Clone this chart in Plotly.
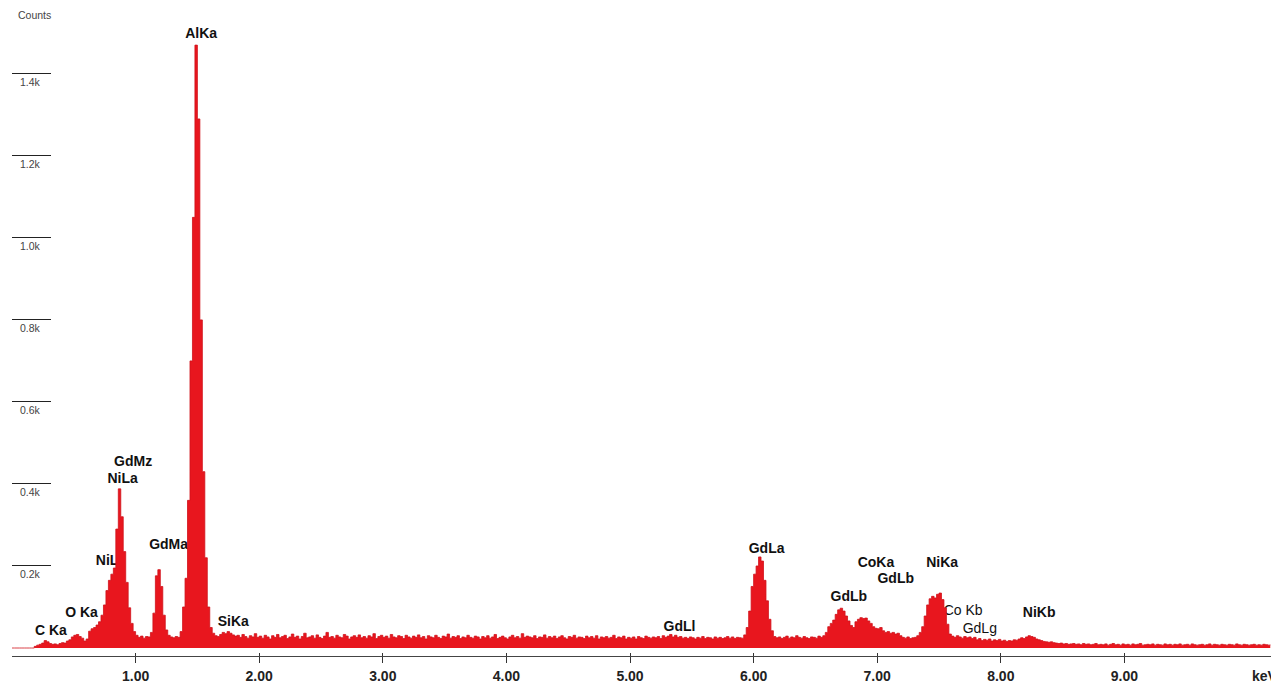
import plotly.graph_objects as go

# ---------------- data ----------------
channel_start_keV = 0.0
channel_width_keV = 0.02

# counts per 0.02 keV channel, 0.00 ... 10.18 keV (one row = 0.2 keV)
counts = [
    0, 0, 0, 0, 0, 0, 0, 0, 0, 4,                      # 0.00
    7, 9, 12, 18, 15, 11, 9, 10, 8, 11,                # 0.20
    13, 12, 17, 20, 27, 31, 33, 28, 24, 17,            # 0.40
    22, 41, 47, 50, 56, 64, 80, 105, 140, 165,         # 0.60
    180, 195, 290, 388, 320, 235, 160, 98, 60, 40,     # 0.80
    31, 26, 29, 24, 28, 27, 38, 85, 176, 191,          # 1.00
    150, 80, 44, 31, 27, 25, 28, 26, 40, 100,          # 1.20
    170, 360, 700, 1050, 1470, 1290, 800, 430, 220, 100,  # 1.40
    50, 36, 30, 28, 33, 38, 35, 40, 36, 32,            # 1.60
    29, 31, 26, 33, 28, 24, 30, 27, 35, 26,            # 1.80
    29, 24, 31, 27, 22, 30, 26, 33, 25, 28,            # 2.00
    31, 23, 27, 34, 26, 29, 22, 28, 36, 25,            # 2.20
    27, 30, 24, 32, 26, 23, 29, 38, 26, 28,            # 2.40
    24, 31, 27, 25, 33, 29, 22, 27, 30, 26,            # 2.60
    32, 25, 28, 24, 30, 27, 35, 23, 28, 31,            # 2.80
    26, 29, 24, 33, 27, 25, 30, 28, 23, 31,            # 3.00
    27, 24, 29, 26, 32, 25, 28, 22, 30, 27,            # 3.20
    25, 31, 26, 23, 29, 27, 34, 24, 28, 26,            # 3.40
    30, 23, 27, 25, 31, 26, 24, 29, 27, 22,            # 3.60
    28, 25, 30, 24, 27, 33, 23, 26, 29, 25,            # 3.80
    22, 27, 31, 25, 28, 24, 35, 26, 29, 27,            # 4.00
    25, 30, 23, 27, 26, 32, 24, 28, 25, 29,            # 4.20
    23, 27, 30, 25, 22, 28, 26, 31, 24, 27,            # 4.40
    26, 23, 29, 25, 28, 24, 30, 22, 27, 25,            # 4.60
    28, 24, 26, 31, 23, 27, 25, 29, 22, 26,            # 4.80
    24, 27, 22, 28, 25, 23, 29, 26, 24, 27,            # 5.00
    25, 28, 23, 30, 26, 29, 33, 27, 31, 26,            # 5.20
    28, 24, 26, 23, 27, 25, 22, 26, 24, 28,            # 5.40
    23, 26, 25, 22, 27, 24, 26, 23, 25, 28,            # 5.60
    24, 27, 23, 26, 25, 24, 32, 50, 90, 150,           # 5.80
    180, 200, 222, 212, 165, 115, 70, 42, 28, 25,      # 6.00
    27, 23, 26, 29, 24, 27, 25, 30, 26, 24,            # 6.20
    28, 25, 23, 27, 26, 24, 29, 26, 30, 38,            # 6.40
    52, 60, 68, 82, 93, 97, 90, 78, 66, 55,            # 6.60
    50, 64, 70, 74, 72, 73, 66, 60, 52, 48,            # 6.80
    47, 50, 42, 38, 40, 36, 38, 34, 36, 30,            # 7.00
    26, 24, 27, 23, 25, 26, 30, 38, 52, 78,            # 7.20
    105, 120, 126, 122, 131, 134, 118, 98, 58, 34,     # 7.40
    29, 26, 30, 27, 24, 28, 25, 27, 23, 26,            # 7.60
    20, 23, 18, 21, 19, 22, 17, 20, 18, 21,            # 7.80
    17, 19, 16, 18, 17, 20, 19, 22, 25, 23,            # 8.00
    27, 30, 28, 26, 22, 20, 18, 16, 15, 14,            # 8.20
    15, 13, 12, 11, 12, 10, 11, 9, 10, 11,             # 8.40
    9, 10, 8, 11, 9, 10, 8, 9, 11, 8,                  # 8.60
    9, 8, 10, 7, 9, 11, 8, 9, 7, 10,                   # 8.80
    8, 9, 7, 10, 8, 9, 11, 7, 8, 9,                    # 9.00
    8, 10, 7, 9, 8, 7, 10, 8, 9, 7,                    # 9.20
    9, 8, 10, 7, 8, 9, 7, 10, 8, 7,                    # 9.40
    8, 9, 7, 8, 10, 7, 9, 8, 7, 9,                     # 9.60
    8, 7, 9, 8, 7, 10, 8, 7, 9, 8,                     # 9.80
    7, 8, 9, 7, 8, 7, 9, 8, 7, 8,                      # 10.00
]

energy_keV = [round(channel_start_keV + i * channel_width_keV, 4) for i in range(len(counts))]

# peak labels (energy, counts position of the text)
peak_labels = ["AlKa", "GdMz", "NiLa", "NiLl", "GdMa", "SiKa", "O Ka", "C Ka",
               "GdLl", "GdLa", "GdLb", "CoKa", "GdLb", "NiKa", "NiKb"]
peak_label_keV = [1.53, 0.98, 0.895, 0.785, 1.267, 1.79, 0.563, 0.315,
                  5.40, 6.105, 6.77, 6.99, 7.15, 7.525, 8.31]
peak_label_counts = [1497, 453, 412, 210, 251, 61, 85, 41,
                     49, 241, 122, 207, 166, 207, 85]

minor_labels = ["Co Kb", "GdLg"]
minor_label_keV = [7.695, 7.83]
minor_label_counts = [88, 44]

x_tick_values = [1, 2, 3, 4, 5, 6, 7, 8, 9]
x_tick_labels = ["1.00", "2.00", "3.00", "4.00", "5.00", "6.00", "7.00", "8.00", "9.00"]
y_tick_values = [200, 400, 600, 800, 1000, 1200, 1400]
y_tick_labels = ["0.2k", "0.4k", "0.6k", "0.8k", "1.0k", "1.2k", "1.4k"]

# ---------------- styling ----------------
RED = "#E8161E"
LABEL_FONT = "Liberation Sans, Arial, sans-serif"

fig = go.Figure()

# labels drawn first so that the spectrum covers them where they overlap
fig.add_trace(go.Scatter(
    x=peak_label_keV, y=peak_label_counts, mode="text",
    text=peak_labels, textposition="middle center",
    textfont=dict(family=LABEL_FONT, size=14, color="#111111", weight="bold"),
    hoverinfo="skip", showlegend=False, xaxis="x", yaxis="y",
))
fig.add_trace(go.Scatter(
    x=minor_label_keV, y=minor_label_counts, mode="text",
    text=minor_labels, textposition="middle center",
    textfont=dict(family=LABEL_FONT, size=14, color="#111111"),
    hoverinfo="skip", showlegend=False, xaxis="x", yaxis="y",
))

fig.add_trace(go.Scatter(
    x=energy_keV, y=counts, mode="lines",
    line=dict(shape="hv", color="#D0121A", width=0.8),
    fill="tozeroy", fillcolor=RED,
    hoverinfo="skip", showlegend=False, xaxis="x2", yaxis="y",
))

annotations = []
for v, t in zip(y_tick_values, y_tick_labels):
    annotations.append(dict(
        x=0, xref="paper", xanchor="left", xshift=6,
        y=v, yref="y", yanchor="middle", yshift=-8,
        text=t, showarrow=False,
        font=dict(family=LABEL_FONT, size=10.5, color="#444444"),
    ))
annotations.append(dict(
    x=0, xref="paper", xanchor="left", xshift=4,
    y=1, yref="paper", yanchor="middle", yshift=-15,
    text="Counts", showarrow=False,
    font=dict(family=LABEL_FONT, size=10.5, color="#444444"),
))
annotations.append(dict(
    x=1, xref="paper", xanchor="left", xshift=-21,
    y=0, yref="paper", yanchor="middle", yshift=-20,
    text="keV", showarrow=False,
    font=dict(family=LABEL_FONT, size=14, color="#222222", weight="bold"),
))

fig.update_layout(
    width=1271, height=687,
    margin=dict(l=12, r=0, t=0, b=31),
    paper_bgcolor="white", plot_bgcolor="white",
    showlegend=False,
    annotations=annotations,
    xaxis=dict(
        range=[0, 10.186], showgrid=False, zeroline=False,
        showline=True, linecolor="#444444", linewidth=1,
        ticks="outside", ticklen=6, tickwidth=1, tickcolor="#333333",
        tickvals=x_tick_values, ticktext=x_tick_labels,
        tickfont=dict(family=LABEL_FONT, size=14, color="#222222", weight="bold"),
        ticklabelstandoff=1,
    ),
    xaxis2=dict(
        matches="x", overlaying="x", anchor="y", side="bottom",
        showgrid=False, zeroline=False, showline=False,
        ticks="inside", ticklen=3, tickwidth=1, tickcolor="#333333",
        tickvals=x_tick_values, showticklabels=False,
    ),
    yaxis=dict(
        range=[-19.5, 1580], showgrid=False, zeroline=False, showline=False,
        ticks="inside", ticklen=39, tickwidth=1, tickcolor="#222222",
        tickvals=y_tick_values, showticklabels=False,
    ),
)

fig.write_html("out.html", config={"displayModeBar": False},
               post_script="document.body.style.margin='0';")
